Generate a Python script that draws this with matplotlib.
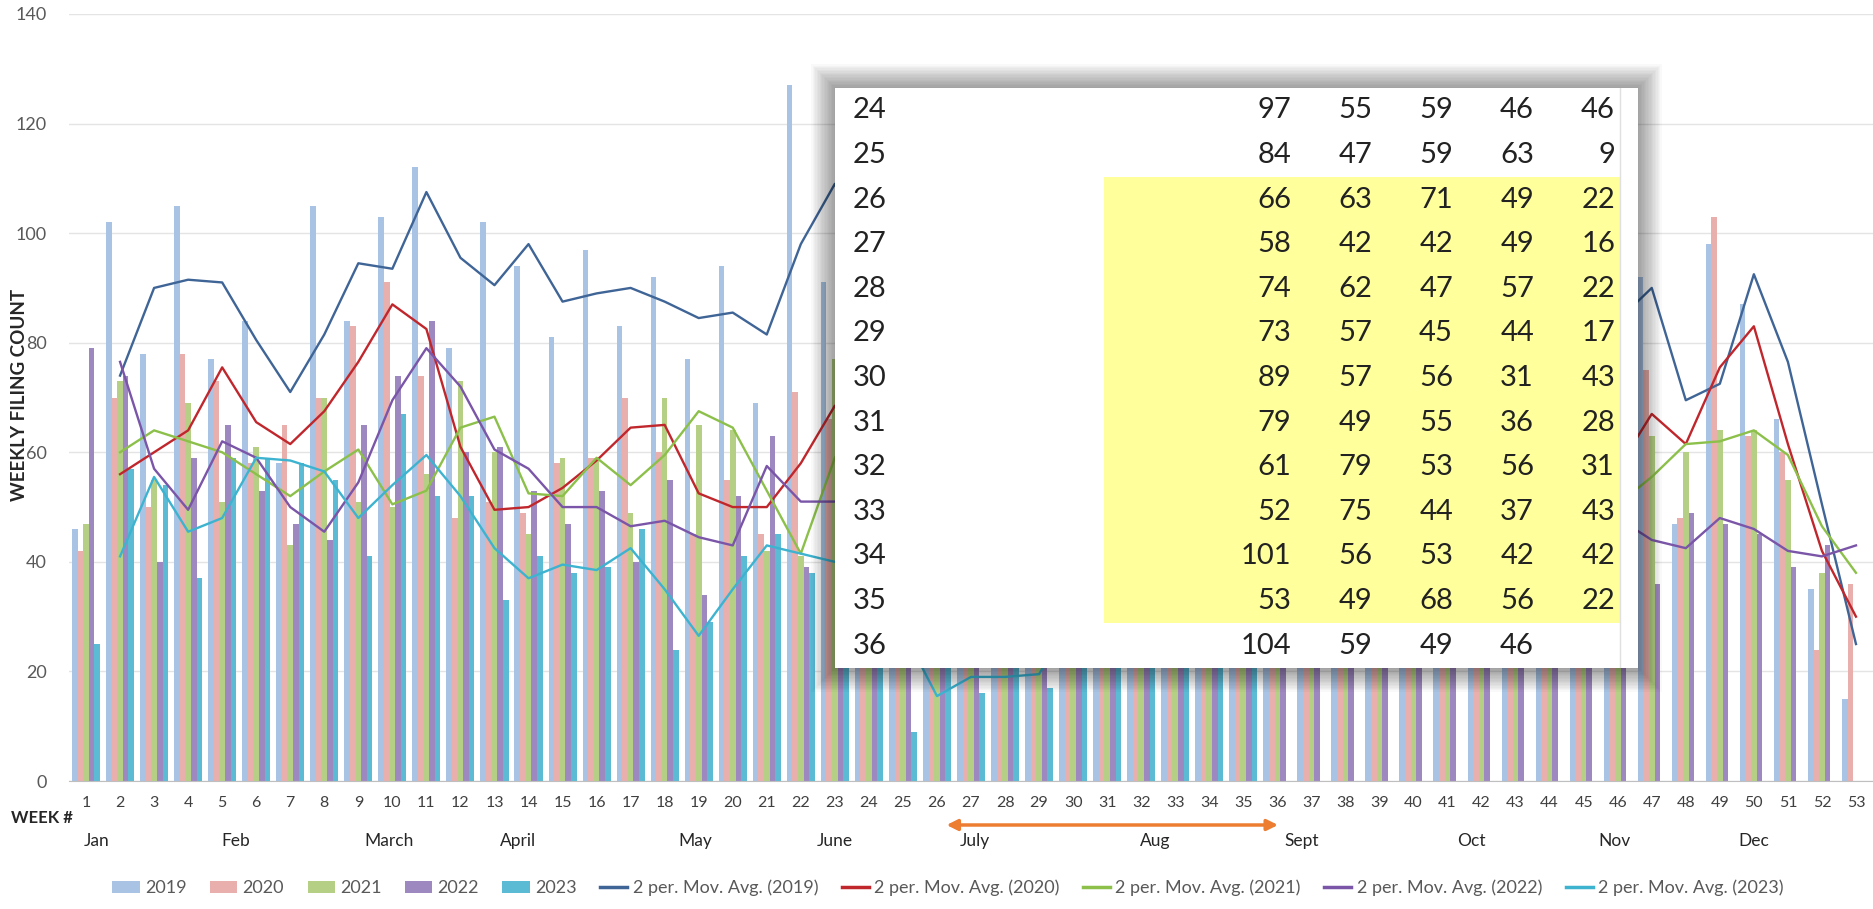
import numpy as np
import pandas as pd
import matplotlib
matplotlib.use("Agg")
import matplotlib.pyplot as plt
import matplotlib.transforms as mtransforms
from matplotlib.patches import Rectangle, Patch
from matplotlib.lines import Line2D

plt.rcParams['font.family'] = ['Lato', 'DejaVu Sans']

# weekly filing counts, weeks 1..53 (weeks 37-45 sit behind the table; estimated)
weeks = list(range(1, 54))
y2019 = [46, 102, 78, 105, 77, 84, 58, 105, 84, 103, 112, 79, 102, 94, 81, 97, 83, 92, 77, 94,
         69, 127, 91, 97, 84, 66, 58, 74, 73, 89, 79, 61, 52, 101, 53, 104,
         72, 85, 80, 77, 90, 68, 83, 75, 80, 88, 92, 47, 98, 87, 66, 35, 15]
y2020 = [42, 70, 50, 78, 73, 58, 65, 70, 83, 91, 74, 48, 51, 49, 58, 59, 70, 60, 45, 55,
         45, 71, 66, 55, 47, 63, 42, 62, 57, 57, 49, 79, 75, 56, 49, 59,
         55, 60, 48, 62, 51, 58, 47, 63, 55, 59, 75, 48, 103, 63, 60, 24, 36]
y2021 = [47, 73, 55, 69, 51, 61, 43, 70, 51, 50, 56, 73, 60, 45, 59, 59, 49, 70, 65, 64,
         42, 41, 77, 59, 59, 71, 42, 47, 45, 56, 55, 53, 44, 53, 68, 49,
         50, 47, 55, 44, 58, 52, 49, 46, 53, 48, 63, 60, 64, 64, 55, 38, None]
y2022 = [79, 74, 40, 59, 65, 53, 47, 44, 65, 74, 84, 60, 61, 53, 47, 53, 40, 55, 34, 52,
         63, 39, 63, 46, 63, 49, 49, 57, 44, 31, 36, 56, 37, 42, 56, 46,
         42, 50, 38, 45, 47, 41, 52, 39, 44, 52, 36, 49, 47, 45, 39, 43, None]
y2023 = [25, 57, 54, 37, 59, 59, 58, 55, 41, 67, 52, 52, 33, 41, 38, 39, 46, 24, 29, 41,
         45, 38, 42, 46, 9, 22, 16, 22, 17, 43, 28, 31, 43, 42, 22] + [None] * 18

years = ['2019', '2020', '2021', '2022', '2023']
bar_colors = ['#A8C3E3', '#E8AFAC', '#B5D084', '#9E88C0', '#5BBAD4']
ma_colors = ['#3F6496', '#C0272D', '#8CC04A', '#7A55A8', '#3DB3D0']

# pasted spreadsheet excerpt (weeks 24-36)
tbl_weeks = [24, 25, 26, 27, 28, 29, 30, 31, 32, 33, 34, 35, 36]
tbl_vals = [[97, 55, 59, 46, 46], [84, 47, 59, 63, 9], [66, 63, 71, 49, 22],
            [58, 42, 42, 49, 16], [74, 62, 47, 57, 22], [73, 57, 45, 44, 17],
            [89, 57, 56, 31, 43], [79, 49, 55, 36, 28], [61, 79, 53, 56, 31],
            [52, 75, 44, 37, 43], [101, 56, 53, 42, 42], [53, 49, 68, 56, 22],
            [104, 59, 49, 46, None]]

months = ['Jan', 'Feb', 'March', 'April', 'May', 'June', 'July', 'Aug', 'Sept', 'Oct', 'Nov', 'Dec']
month_pos = [1.3, 5.4, 9.9, 13.7, 18.9, 23.0, 27.1, 32.4, 36.7, 41.7, 45.9, 50.0]

df = pd.DataFrame({'2019': y2019, '2020': y2020, '2021': y2021, '2022': y2022, '2023': y2023},
                  index=weeks, dtype=float)

W, H = 1874, 909
fig = plt.figure(figsize=(W / 100, H / 100), dpi=100)
ax = fig.add_axes([69 / W, 1 - 781 / H, (1873 - 69) / W, (781 - 14) / H])

bw = 0.165
for k, yr in enumerate(years):
    ax.bar(df.index + (k - 2) * bw, df[yr], width=bw, color=bar_colors[k], zorder=2)

for k, yr in enumerate(years):
    ma = df[yr].rolling(2, min_periods=1).mean()
    ma.iloc[0] = np.nan
    ax.plot(df.index, ma, color=ma_colors[k], lw=1.7, zorder=3)

ax.set_xlim(0.5, 53.5)
ax.set_ylim(0, 140)
ax.set_yticks(range(0, 141, 20))
ax.set_xticks(weeks)
ax.tick_params(axis='y', length=0, pad=16, labelsize=13, labelcolor='#595959')
ax.tick_params(axis='x', length=0, pad=11, labelsize=11.5, labelcolor='#404040')
ax.yaxis.grid(True, color='#E4E4E4', lw=1)
ax.set_axisbelow(True)
for s in ['top', 'right', 'left']:
    ax.spines[s].set_visible(False)
ax.spines['bottom'].set_color('#BFBFBF')

fig.text(11 / W, 1 - 818 / H, 'WEEK #', fontsize=12, fontweight='bold', color='#262626', va='center')
fig.text(20 / W, 1 - 395 / H, 'WEEKLY FILING COUNT', rotation=90, fontsize=13.5,
         fontweight='bold', color='#262626', va='center', ha='center')

trans = mtransforms.blended_transform_factory(ax.transData, fig.transFigure)
for m, p in zip(months, month_pos):
    ax.text(p, 1 - 841 / H, m, transform=trans, ha='center', va='center', fontsize=12.5, color='#262626')

ax.annotate('', xy=(36.1, 1 - 825 / H), xytext=(26.2, 1 - 825 / H), xycoords=trans, textcoords=trans,
            arrowprops=dict(arrowstyle='<|-|>', color='#ED7D31', lw=2.5, mutation_scale=16),
            annotation_clip=False)

# shadow around the pasted table
tx0, ty0, tx1, ty1 = 835, 88, 1638, 668
for i in range(1, 18):
    d = i * 1.4
    fig.patches.append(Rectangle(((tx0 - d) / W, 1 - (ty1 + d) / H), (tx1 - tx0 + 2 * d) / W,
                                 (ty1 - ty0 + 2 * d) / H, transform=fig.transFigure,
                                 fc='black', ec='none', alpha=0.025, zorder=4))

tax = fig.add_axes([tx0 / W, 1 - ty1 / H, (tx1 - tx0) / W, (ty1 - ty0) / H], zorder=10)
tax.set_xlim(0, tx1 - tx0)
tax.set_ylim(ty1 - ty0, 0)
tax.axis('off')
tax.add_patch(Rectangle((0, 0), tx1 - tx0, ty1 - ty0, fc='white', ec='none'))
rh = (ty1 - ty0) / len(tbl_weeks)
tax.add_patch(Rectangle((269, 2 * rh), 785 - 269, 10 * rh, fc='#FFFF9C', ec='none'))
tax.plot([785, 785], [0, ty1 - ty0], color='#E0E0E0', lw=1)
col_x = [456, 537, 618, 699, 780]
for r, (wk, vals) in enumerate(zip(tbl_weeks, tbl_vals)):
    yc = (r + 0.5) * rh
    tax.text(18, yc, str(wk), ha='left', va='center', fontsize=21, color='#222222')
    for cx, v in zip(col_x, vals):
        if v is not None:
            tax.text(cx, yc, str(v), ha='right', va='center', fontsize=21, color='#222222')

handles = [Patch(fc=c, ec='none') for c in bar_colors] + \
          [Line2D([], [], color=c, lw=2.5) for c in ma_colors]
labels = years + ['2 per. Mov. Avg. (%s)' % y for y in years]
fig.legend(handles, labels, loc='center', bbox_to_anchor=(948 / W, 1 - 888 / H), ncol=10,
           frameon=False, fontsize=13, labelcolor='#595959', handlelength=1.5,
           handletextpad=0.3, columnspacing=1.3)

fig.savefig('out.png', dpi=100)
